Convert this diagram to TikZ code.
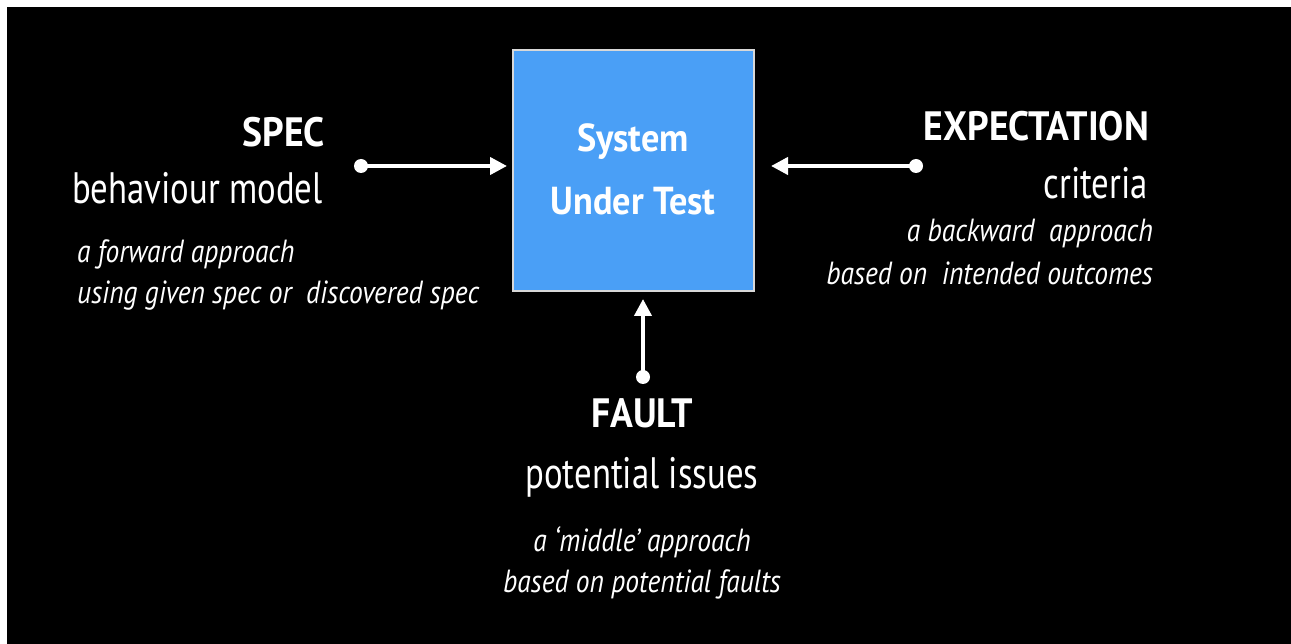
\documentclass[tikz,border=0pt]{standalone}
\usepackage{fontspec}
\setmainfont{PT Sans}
\usetikzlibrary{arrows.meta}
\definecolor{sutblue}{HTML}{4A9FF6}
\definecolor{sutedge}{HTML}{D8D8D8}
\newcommand\bbtxt[1]{\scalebox{0.92}[1]{#1}}
\newcommand\brtxt[1]{\scalebox{0.79}[1]{#1}}
\newcommand\sitxt[1]{\scalebox{0.86}[1]{#1}}
\newcommand\suttxt[1]{\scalebox{0.93}[1]{#1}}
\tikzset{
  bigbold/.style={text=white,inner sep=0pt,font=\fontsize{41}{48}\selectfont\bfseries},
  bigreg/.style={text=white,inner sep=0pt,font=\fontsize{44}{52}\selectfont},
  smallit/.style={text=white,inner sep=0pt,font=\fontsize{32}{38}\selectfont\itshape},
  dotnode/.style={circle,fill=white,draw=none,minimum size=14pt,inner sep=0pt},
  arr/.style={white,line width=4pt,-{Triangle[length=17pt,width=17pt]}},
  sutbox/.style={draw=sutedge,line width=2pt,fill=sutblue,minimum width=241pt,minimum height=241pt,inner sep=0pt},
  suttext/.style={text=white,inner sep=0pt,font=\fontsize{39}{46}\selectfont\bfseries}
}
\begin{document}
\begin{tikzpicture}[x=1pt,y=-1pt]
\fill[white] (0,0) rectangle (1291,644);
\useasboundingbox (0,0) rectangle (1291,644);
\fill[black] (7,7) rectangle (1291,644);
% central box
\node[sutbox] (sut) at (633,171) {};
\node[suttext,anchor=base] (sut1) at (633,152) {\suttxt{System}};
\node[suttext,anchor=base] (sut2) at (633,215) {\suttxt{Under Test}};
% left: SPEC
\node[bigbold,anchor=base east] (spec) at (325,147) {\bbtxt{SPEC}};
\node[bigreg,anchor=base east] (specsub) at (323,204) {\brtxt{behaviour model}};
\node[smallit,anchor=base west] (spec1) at (77,263) {\sitxt{a forward approach}};
\node[smallit,anchor=base west] (spec2) at (77,304) {\sitxt{using given spec or\ \ discovered spec}};
% right: EXPECTATION
\node[bigbold,anchor=base east] (exp) at (1149,141) {\bbtxt{EXPECTATION}};
\node[bigreg,anchor=base east] (expsub) at (1148,199) {\brtxt{criteria}};
\node[smallit,anchor=base east] (exp1) at (1153,242) {\sitxt{a backward\ \ approach}};
\node[smallit,anchor=base east] (exp2) at (1153,285) {\sitxt{based on\ \ intended outcomes}};
% bottom: FAULT
\node[bigbold,anchor=base] (fault) at (642,428) {\bbtxt{FAULT}};
\node[bigreg,anchor=base] (faultsub) at (642,488) {\brtxt{potential issues}};
\node[smallit,anchor=base] (fault1) at (642,551) {\sitxt{a `middle' approach}};
\node[smallit,anchor=base] (fault2) at (642,592) {\sitxt{based on potential faults}};
% connectors
\node[dotnode] (sd) at (361,166) {};
\node[dotnode] (ed) at (916,166) {};
\node[dotnode] (fd) at (643,377) {};
\coordinate (st) at (507,166);
\coordinate (et) at (771,166);
\coordinate (ft) at (643,299);
\draw[arr] (sd.center) -- (st);
\draw[arr] (ed.center) -- (et);
\draw[arr] (fd.center) -- (ft);
\end{tikzpicture}
\end{document}
